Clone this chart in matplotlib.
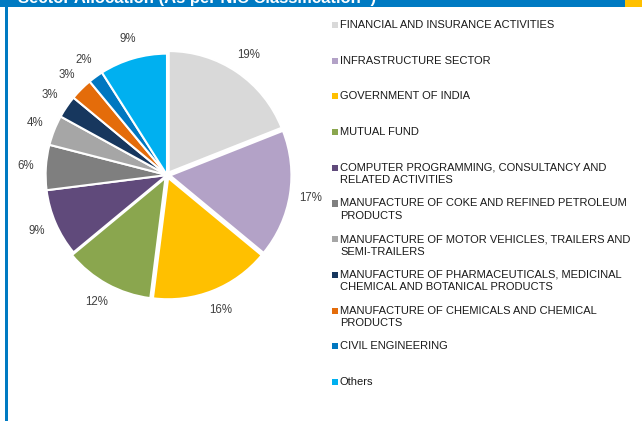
import matplotlib.pyplot as plt
from matplotlib.patches import Rectangle

plt.rcParams["font.family"] = ["Liberation Sans", "DejaVu Sans"]

sectors = [
    "FINANCIAL AND INSURANCE ACTIVITIES",
    "INFRASTRUCTURE SECTOR",
    "GOVERNMENT OF INDIA",
    "MUTUAL FUND",
    "COMPUTER PROGRAMMING, CONSULTANCY AND\nRELATED ACTIVITIES",
    "MANUFACTURE OF COKE AND REFINED PETROLEUM\nPRODUCTS",
    "MANUFACTURE OF MOTOR VEHICLES, TRAILERS AND\nSEMI-TRAILERS",
    "MANUFACTURE OF PHARMACEUTICALS, MEDICINAL\nCHEMICAL AND BOTANICAL PRODUCTS",
    "MANUFACTURE OF CHEMICALS AND CHEMICAL\nPRODUCTS",
    "CIVIL ENGINEERING",
    "Others",
]
weights = [19, 17, 16, 12, 9, 6, 4, 3, 3, 2, 9]
colors = [
    "#d9d9d9", "#b3a2c7", "#ffc000", "#8aa64e", "#604a7b", "#7f7f7f",
    "#a6a6a6", "#17375e", "#e46c0a", "#0077c0", "#00b0f0",
]
explode = [0.025, 0.025, 0.025, 0.025, 0, 0, 0, 0, 0, 0, 0]

W, H = 642, 421
fig = plt.figure(figsize=(W / 100, H / 100), dpi=100)

# header strip and left border
fig.patches.append(Rectangle((0, 1 - 7 / H), 625 / W, 7 / H, transform=fig.transFigure,
                             facecolor="#007ac2", edgecolor="none"))
fig.patches.append(Rectangle((625 / W, 1 - 7 / H), 17 / W, 7 / H, transform=fig.transFigure,
                             facecolor="#ffc000", edgecolor="none"))
fig.patches.append(Rectangle((5 / W, 0), 2.5 / W, 1 - 7 / H, transform=fig.transFigure,
                             facecolor="#007ac2", edgecolor="none"))
fig.text(18 / W, 1 - 3 / H, "Sector Allocation (As per NIC Classification^)",
         color="white", fontsize=12, fontweight="bold", va="baseline")

ax = fig.add_axes([6 / W, 85 / H, 322 / W, 322 / H])
wedges, _, pcts = ax.pie(
    weights, colors=colors, explode=explode, startangle=90, counterclock=False,
    radius=0.98, autopct="%d%%", pctdistance=1.17,
    wedgeprops=dict(edgecolor="white", linewidth=1.5),
    textprops=dict(fontsize=8.3, color="#404040"),
)
ax.set_xlim(-1.3, 1.3)
ax.set_ylim(-1.3, 1.3)
ax.set_aspect("equal")
ax.axis("off")

# legend, one slot per sector
for i, (w, name) in enumerate(zip(wedges, sectors)):
    yc = 25 + 35.7 * i
    fig.patches.append(Rectangle((332 / W, 1 - (yc + 3) / H), 6 / W, 6 / H,
                                 transform=fig.transFigure,
                                 facecolor=w.get_facecolor(), edgecolor="none"))
    fig.text(340 / W, 1 - (yc - 5) / H, name, fontsize=8.0, color="#1a1a1a",
             va="top", linespacing=1.32)

fig.savefig("out.png", dpi=100)
